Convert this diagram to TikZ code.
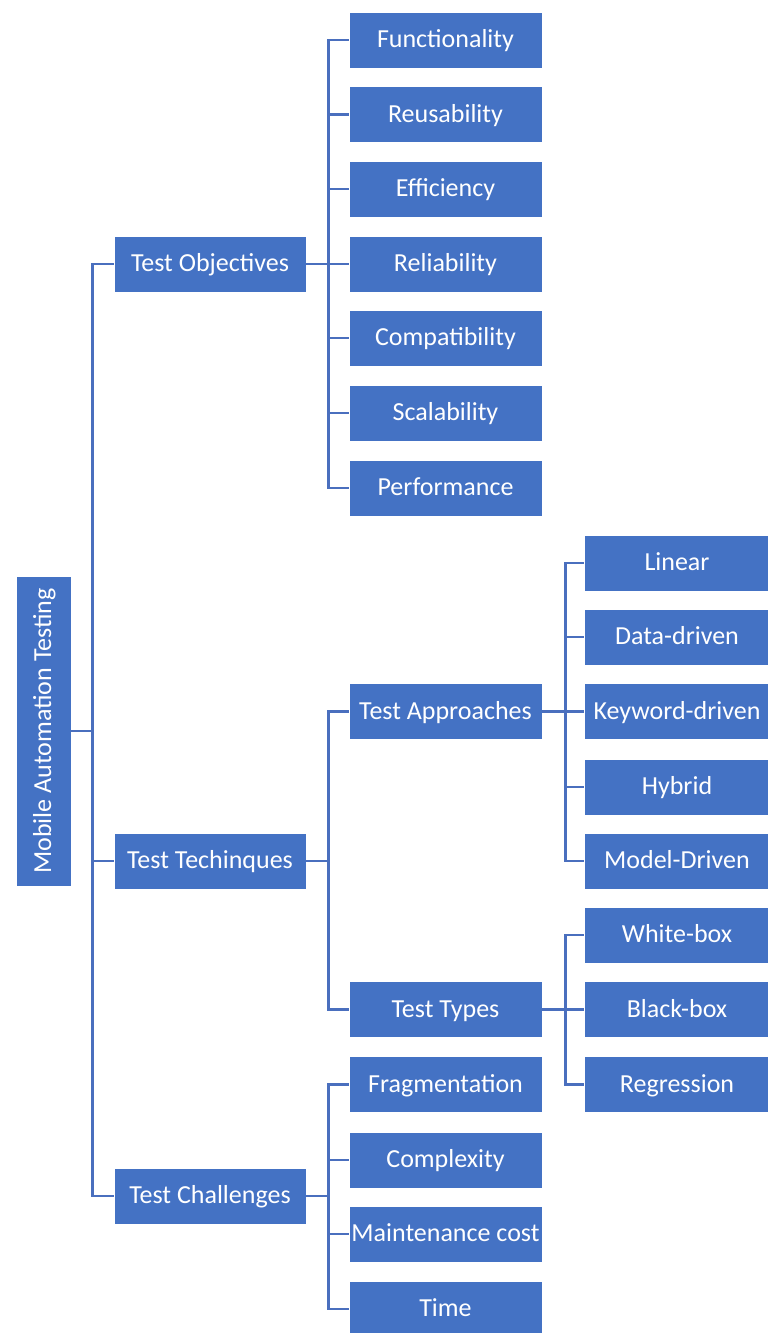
\documentclass[tikz,border=0pt]{standalone}
\usepackage{fontspec}
\setmainfont{Carlito}
\definecolor{boxblue}{HTML}{4472C4}
\definecolor{lineblue}{HTML}{4A6FBE}
\begin{document}
\begin{tikzpicture}[x=1pt,y=1pt,
  box/.style={fill=boxblue,draw=white,line width=0.6pt,text=white,font=\fontsize{26}{30}\selectfont,inner sep=0pt,text height=20pt,text depth=5pt,anchor=center},
  lone/.style={box,minimum width=192pt,minimum height=56pt},
  ltwo/.style={box,minimum width=193pt,minimum height=56pt},
  lthree/.style={box,minimum width=186pt,minimum height=56pt},
  link/.style={draw=lineblue,line width=2.5pt}]
\useasboundingbox (0,0) rectangle (768,-1333);
\clip (0,0) rectangle (768,-1333);
% root
\node[box,rotate=90,minimum width=310pt,minimum height=55pt] (root) at (43.5,-731) {Mobile Automation Testing};
% level 1
\node[lone] (obj) at (210,-264) {Test Objectives};
\node[lone] (tech) at (210,-861) {Test Techinques};
\node[lone] (chal) at (210,-1196) {Test Challenges};
% objectives
\node[ltwo] (f1) at (445.5,-40) {Functionality};
\node[ltwo] (f2) at (445.5,-114.5) {Reusability};
\node[ltwo] (f3) at (445.5,-189) {Efficiency};
\node[ltwo] (f4) at (445.5,-264) {Reliability};
\node[ltwo] (f5) at (445.5,-338) {Compatibility};
\node[ltwo] (f6) at (445.5,-413) {Scalability};
\node[ltwo] (f7) at (445.5,-488) {Performance};
% techniques
\node[ltwo] (appr) at (445.5,-711.5) {Test Approaches};
\node[ltwo] (types) at (445.5,-1009.5) {Test Types};
% challenges
\node[ltwo] (c1) at (445.5,-1084.5) {Fragmentation};
\node[ltwo] (c2) at (445.5,-1160) {Complexity};
\node[ltwo] (c3) at (445.5,-1234) {Maintenance cost};
\node[ltwo] (c4) at (445.5,-1309) {Time};
% approaches
\node[lthree] (a1) at (677,-563) {Linear};
\node[lthree] (a2) at (677,-637) {Data-driven};
\node[lthree] (a3) at (677,-711.5) {Keyword-driven};
\node[lthree] (a4) at (677,-787) {Hybrid};
\node[lthree] (a5) at (677,-861) {Model-Driven};
% types
\node[lthree] (t1) at (677,-935) {White-box};
\node[lthree] (t2) at (677,-1009.5) {Black-box};
\node[lthree] (t3) at (677,-1084.5) {Regression};
% connectors
\foreach \c in {obj,tech,chal}
  \draw[link] (root.south) -- ++(21,0) |- (\c.west);
\foreach \c in {f1,f2,f3,f4,f5,f6,f7}
  \draw[link] (obj.east) -- ++(22,0) |- (\c.west);
\foreach \c in {appr,types}
  \draw[link] (tech.east) -- ++(22,0) |- (\c.west);
\foreach \c in {c1,c2,c3,c4}
  \draw[link] (chal.east) -- ++(22,0) |- (\c.west);
\foreach \c in {a1,a2,a3,a4,a5}
  \draw[link] (appr.east) -- ++(23,0) |- (\c.west);
\foreach \c in {t1,t2,t3}
  \draw[link] (types.east) -- ++(23,0) |- (\c.west);
\end{tikzpicture}
\end{document}
